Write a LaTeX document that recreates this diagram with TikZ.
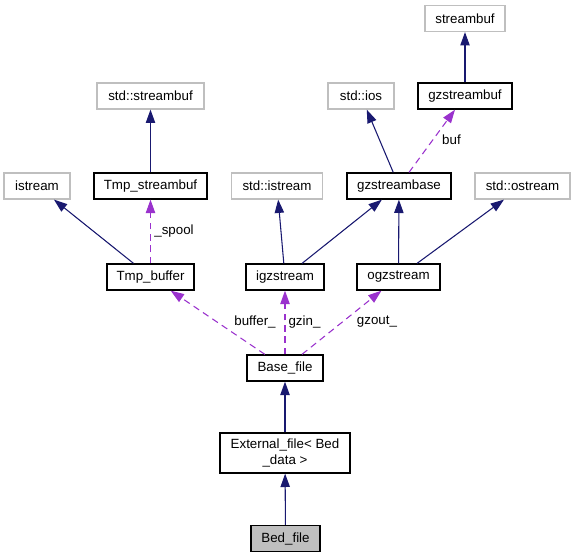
\documentclass[tikz,border=0pt]{standalone}
\usepackage{fontspec}
\setmainfont{Liberation Sans}
\usepackage{tikz}
\usetikzlibrary{arrows.meta, positioning}
\definecolor{inheritcolor}{RGB}{25, 25, 112}
\definecolor{usagecolor}{RGB}{154, 50, 205}
\definecolor{extgray}{RGB}{191, 191, 191}
\tikzstyle{class_box} = [rectangle, draw=black, line width=1pt, inner sep=0pt, minimum height=19.5pt, align=center, font=\fontsize{10}{12}\selectfont]
\tikzstyle{ext_box} = [class_box, draw=extgray, line width=0.9pt]
\tikzstyle{inherit} = [-{Triangle[length=10pt, width=7pt]}, inheritcolor, line width=0.8pt]
\tikzstyle{usage} = [-{Triangle[length=10pt, width=7pt]}, usagecolor, line width=0.8pt, dash pattern=on 5pt off 3.5pt]
\tikzstyle{edge_label} = [font=\fontsize{10}{12}\selectfont, inner sep=0pt]

\begin{document}
\begin{tikzpicture}[x=0.75pt, y=-0.75pt]
\useasboundingbox (0,0) rectangle (575,557);

% External classes
\node[ext_box, minimum width=60pt] (streambuf) at (465, 18.5) {streambuf};
\node[ext_box, minimum width=80.25pt] (stdstreambuf) at (150.5, 96) {std::streambuf};
\node[ext_box, minimum width=49.5pt] (stdios) at (361, 96) {std::ios};
\node[ext_box, minimum width=49.5pt] (istream) at (37, 186) {istream};
\node[ext_box, minimum width=68.25pt] (stdistream) at (277, 186) {std::istream};
\node[ext_box, minimum width=71.25pt] (stdostream) at (522.5, 186) {std::ostream};

% Documented classes
\node[class_box, minimum width=70.5pt] (gzstreambuf) at (465, 96) {gzstreambuf};
\node[class_box, minimum width=84.75pt] (tmpstreambuf) at (150.5, 186) {Tmp\_streambuf};
\node[class_box, minimum width=78pt] (gzstreambase) at (399, 186) {gzstreambase};
\node[class_box, minimum width=65.25pt] (tmpbuffer) at (150.5, 277) {Tmp\_buffer};
\node[class_box, minimum width=58.5pt] (igzstream) at (285, 277) {igzstream};
\node[class_box, minimum width=62.25pt] (ogzstream) at (398.5, 277) {ogzstream};
\node[class_box, minimum width=57pt] (basefile) at (285, 368) {Base\_file};
\node[class_box, minimum width=97.5pt, minimum height=30pt] (externalfile) at (285, 453) {External\_file< Bed\\\_data >};
\node[class_box, minimum width=51.75pt, fill=extgray] (bedfile) at (285.5, 538.5) {Bed\_file};

% Inheritance
\draw[inherit] (gzstreambuf) -- (streambuf);
\draw[inherit] (tmpstreambuf) -- (stdstreambuf);
\draw[inherit] (gzstreambase) -- (stdios);
\draw[inherit] (tmpbuffer) -- (istream);
\draw[inherit] (igzstream) -- (stdistream);
\draw[inherit] (igzstream) -- (gzstreambase);
\draw[inherit] (ogzstream) -- (gzstreambase);
\draw[inherit] (ogzstream) -- (stdostream);
\draw[inherit] (externalfile) -- (basefile);
\draw[inherit] (bedfile) -- (externalfile);

% Usage relations
\draw[usage] (gzstreambase) -- (gzstreambuf);
\draw[usage] (tmpbuffer) -- (tmpstreambuf);
\draw[usage] (basefile) -- (tmpbuffer);
\draw[usage] (basefile) -- (igzstream);
\draw[usage] (basefile) -- (ogzstream);

% Member names
\node[edge_label] (bufl) at (451.5, 140) {buf};
\node[edge_label] (spooll) at (174, 231) {\_spool};
\node[edge_label] (bufferl) at (255, 322) {buffer\_};
\node[edge_label] (gzinl) at (304.5, 322) {gzin\_};
\node[edge_label] (gzoutl) at (377, 322) {gzout\_};

\end{tikzpicture}
\end{document}
